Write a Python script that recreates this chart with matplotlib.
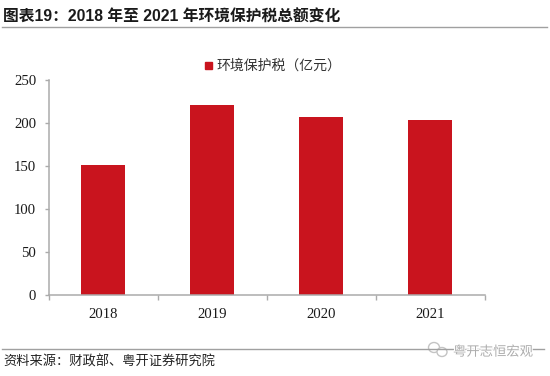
import matplotlib
matplotlib.use('Agg')
import matplotlib.pyplot as plt
import matplotlib.patheffects as pe
from matplotlib.lines import Line2D
from matplotlib.patches import Rectangle, Ellipse

years = ['2018', '2019', '2020', '2021']
values = [151, 221, 207, 203]
yticks = [0, 50, 100, 150, 200, 250]
series_name = '环境保护税（亿元）'
title = '图表19：2018 年至 2021 年环境保护税总额变化'
source = '资料来源：财政部、粤开证券研究院'
watermark = '粤开志恒宏观'

W, H = 550, 376
fig = plt.figure(figsize=(W/100, H/100), dpi=100, facecolor='white')
ax = fig.add_axes([48.7/W, 1-294.5/H, (484.5-48.7)/W, (294.5-80)/H])

RED = '#C9141E'
GREY = '#ABABAB'
ax.bar(range(4), values, width=0.4, color=RED, zorder=2)
ax.set_xlim(-0.5, 3.5)
ax.set_ylim(0, 250)
ax.set_yticks(yticks)
ax.set_xticks([-0.5, 0.5, 1.5, 2.5, 3.5])
ax.set_xticklabels([])
ax.set_xticks(range(4), minor=True)
ax.set_xticklabels(years, minor=True, family='Liberation Serif', fontsize=10.6, color='#1a1a1a')
ax.tick_params(axis='x', which='minor', length=0, pad=10)
ax.tick_params(axis='x', which='major', length=3.5, direction='out', color=GREY, width=1)
ax.tick_params(axis='y', length=3, direction='out', color=GREY, width=1, pad=6)
for l in ax.get_yticklabels():
    l.set_family('Liberation Serif'); l.set_fontsize(10.6); l.set_color('#1a1a1a')
for s in ('top', 'right'):
    ax.spines[s].set_visible(False)
for s in ('left', 'bottom'):
    ax.spines[s].set_color(GREY); ax.spines[s].set_linewidth(1.1)

cjk = ['Noto Sans CJK SC', 'DejaVu Sans']
fig.text(3/W, 1-17.5/H, title, family=['Liberation Sans', 'Noto Sans CJK SC'], fontsize=11.35, fontweight='bold',
         color='#1a1a1a', va='center', ha='left')
fig.add_artist(Line2D([2/W, 547/W], [1-27/H]*2, color='#A0A0A0', lw=1))
fig.add_artist(Line2D([2/W, 544/W], [1-349/H]*2, color='#A0A0A0', lw=1))
fig.text(3/W, 1-362.5/H, source, family=cjk, fontsize=9.5, style='italic', color='#222222', va='center', ha='left')
fig.text(216/W, 1-65.7/H, series_name, family=cjk, fontsize=10, color='#333333', va='center', ha='left')
fig.add_artist(Rectangle((205/W, 1-69/H), 7/W, 7/H, transform=fig.transFigure, color=RED))
fig.add_artist(Ellipse((434/W, 1-347.5/H), 11/W, 10/H, transform=fig.transFigure, fc='white', ec='#C4C4C4', lw=1))
fig.add_artist(Ellipse((442/W, 1-352/H), 10/W, 9/H, transform=fig.transFigure, fc='white', ec='#C4C4C4', lw=1))
t = fig.text(453/W, 1-351.7/H, watermark, family=cjk, fontsize=9.6, color='#ADADAD', va='center', ha='left')
t.set_path_effects([pe.withStroke(linewidth=1.5, foreground='white')])
fig.savefig('out.png', dpi=100)
